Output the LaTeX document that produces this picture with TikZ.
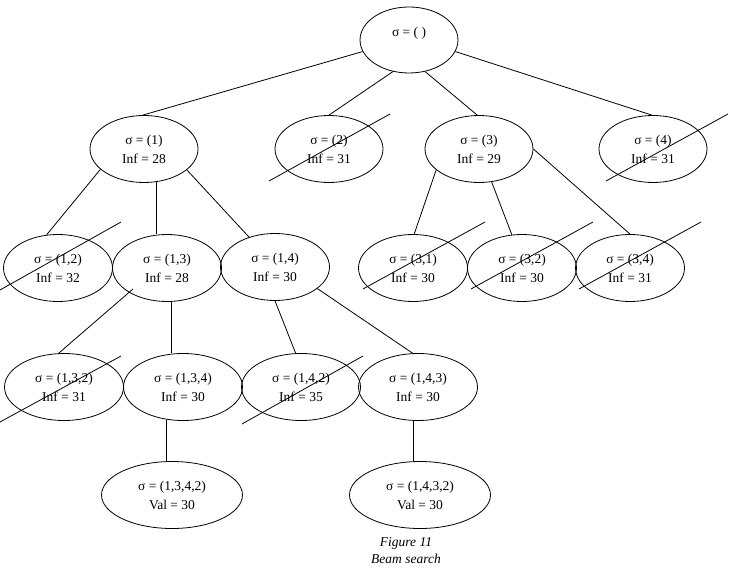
\documentclass[tikz,border=0pt]{standalone}
\usepackage{fontspec}
\setmainfont{Liberation Serif}
\usetikzlibrary{shapes.geometric}
\begin{document}
\begin{tikzpicture}[x=1pt,y=-1pt,
  every node/.style={font=\fontsize{13.5}{19}\selectfont, align=center, inner sep=0pt},
  ell/.style={draw, ellipse, line width=0.8pt, minimum height=67pt},
  lvA/.style={ell, minimum width=108pt},
  lvB/.style={ell, minimum width=109pt},
  lvC/.style={ell, minimum width=119pt},
  lvD/.style={ell, minimum width=141pt},
  edge/.style={line width=0.8pt},
  strike/.style={line width=0.8pt},
  captext/.style={font=\fontsize{13.5}{17}\selectfont\itshape}
]
\useasboundingbox (0,0) rectangle (730,569);

% root
\node[ell, minimum width=98pt, minimum height=66pt] (root) at (409,40) {};
\node (roottext) at (409,33) {σ = ( )};

% level 1
\node[lvA] (n1) at (144,149) {σ = (1)\\Inf = 28};
\node[lvA] (n2) at (329,149) {σ = (2)\\Inf = 31};
\node[lvA] (n3) at (479,149) {σ = (3)\\Inf = 29};
\node[lvA] (n4) at (653,149) {σ = (4)\\Inf = 31};

% level 2
\node[lvB] (n12) at (58,268) {σ = (1,2)\\Inf = 32};
\node[lvB] (n13) at (167,268) {σ = (1,3)\\Inf = 28};
\node[lvB] (n14) at (275,267) {σ = (1,4)\\Inf = 30};
\node[lvB] (n31) at (413,268) {σ = (3,1)\\Inf = 30};
\node[lvB] (n32) at (522,268) {σ = (3,2)\\Inf = 30};
\node[lvB] (n34) at (630,268) {σ = (3,4)\\Inf = 31};

% level 3
\node[lvC] (n132) at (64,387) {σ = (1,3,2)\\Inf = 31};
\node[lvC] (n134) at (183,387) {σ = (1,3,4)\\Inf = 30};
\node[lvC] (n142) at (301,387) {σ = (1,4,2)\\Inf = 35};
\node[lvC] (n143) at (418,387) {σ = (1,4,3)\\Inf = 30};

% level 4
\node[lvD] (n1342) at (172,495) {σ = (1,3,4,2)\\Val = 30};
\node[lvD] (n1432) at (420,495) {σ = (1,4,3,2)\\Val = 30};

% caption
\node[captext] (caption) at (406,551) {Figure 11\\Beam search};

% connectors
\draw[edge] (root.194) -- (n1.92);
\draw[edge] (root.243) -- (n2.90);
\draw[edge] (root.297) -- (n3.93);
\draw[edge] (root.346) -- (n4.92);

\draw[edge] (n1.205) -- (n12.109);
\draw[edge] (n1.290) -- (n1.290 |- n13.north);
\draw[edge] (n1.334) -- (n14.131);

\draw[edge] (n3.206) -- (n31.88);
\draw[edge] (n3.291) -- (n32.107);
\draw[edge] (n3.0) -- (n34.90);

\coordinate (c13s) at (133,289);
\draw[edge] (c13s) -- (n132.99);
\draw[edge] (n13.278) -- (n13.278 |- n134.north);
\draw[edge] (n14.270) -- (n142.99);
\draw[edge] (n14.333) -- (n143.99);

\draw[edge] (n134.243) -- (n134.243 |- n1342.north);
\draw[edge] (n143.263) -- (n143.263 |- n1432.north);

% strike-through lines
\draw[strike] (269,181) -- (390,114);
\draw[strike] (606,181) -- (728,114);
\draw[strike] (0,290) -- (121,222);
\draw[strike] (363,289) -- (485,222);
\draw[strike] (471,289) -- (593,222);
\draw[strike] (579,289) -- (701,222);
\draw[strike] (0,422) -- (121,356);
\draw[strike] (242,424) -- (363,356);
\end{tikzpicture}
\end{document}
